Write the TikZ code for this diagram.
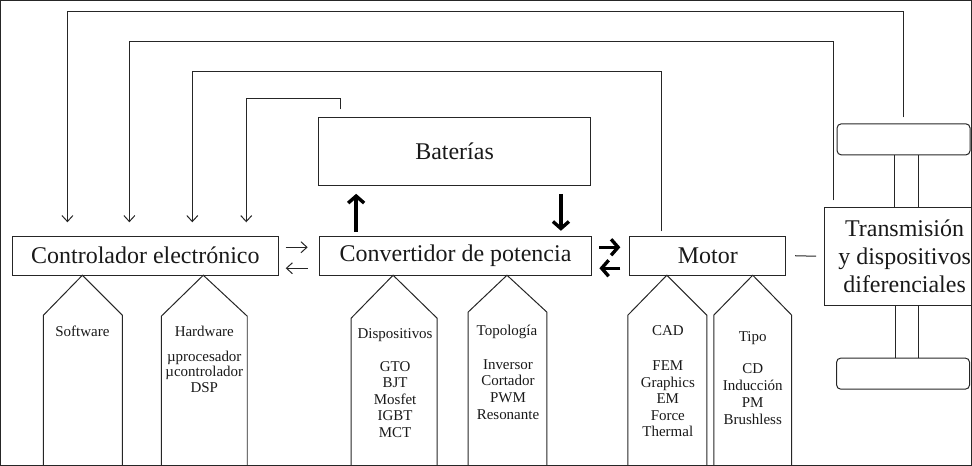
\documentclass[tikz,border=0pt]{standalone}
\usepackage{fontspec}
\setmainfont{Liberation Serif}
\usetikzlibrary{arrows.meta}
\begin{document}
\begin{tikzpicture}[x=1pt,y=-1pt, line width=1pt, every path/.style={draw=black!85},
  big/.style={font=\fontsize{24}{28}\selectfont, text=black!90},
  small/.style={font=\fontsize{15}{16.5}\selectfont, anchor=base, inner sep=0pt, text=black!90},
  box/.style={draw=black!85, inner sep=0pt, big},
  wheel/.style={draw=black!85, rounded corners=4pt, minimum width=133pt, minimum height=31pt, inner sep=0pt},
  thinarr/.style={-{Straight Barb[length=6pt,width=11pt]}},
  thickarr/.style={line width=3.4pt, draw=black, -{Straight Barb[length=7pt,width=16pt]}},
  pent/.style={draw=black!85, line width=1pt}
]
\useasboundingbox (0,0) rectangle (972,465);

% main boxes
\node[box, minimum width=266pt, minimum height=39pt] (ctrl) at (145,255.5) {Controlador electrónico};
\node[box, minimum width=273pt, minimum height=39pt] (conv) at (455.5,255.5) {Convertidor de potencia};
\node[box, minimum width=156pt, minimum height=39pt] (motor) at (708,255.5) {Motor};
\node[box, minimum width=273pt, minimum height=68pt] (bat) at (454.5,151) {Baterías};
\node[box, minimum width=160pt, minimum height=98pt, align=center] (trans) at (905,256)
  {Transmisión\\y dispositivos\\diferenciales};
\node[wheel] (w1) at (904,139) {};
\node[wheel] (w2) at (903.5,373.5) {};

% axles
\draw (w1.south -| 895,0) -- (trans.north -| 895,0);
\draw (w1.south -| 919,0) -- (trans.north -| 919,0);
\draw (trans.south -| 896,0) -- (w2.north -| 896,0);
\draw (trans.south -| 919,0) -- (w2.north -| 919,0);

% feedback lines
\coordinate (s1) at (904,117);
\coordinate (s2) at (834,200);
\coordinate (s3) at (662,231);
\coordinate (s4) at (340,109);
\coordinate (a1) at (67,222);
\coordinate (a2) at (129,222);
\coordinate (a3) at (192,222);
\coordinate (a4) at (246,222);
\draw[thinarr] (s1) |- (67,11) -- (a1);
\draw[thinarr] (s2) |- (129,41) -- (a2);
\draw[thinarr] (s3) |- (192,71) -- (a3);
\draw[thinarr] (s4) |- (246,98) -- (a4);

% controller <-> converter
\draw[thinarr] ([shift={(7,-8.5)}]ctrl.east) -- ([shift={(-11,-8.5)}]conv.west);
\draw[thinarr] ([shift={(-11,12.5)}]conv.west) -- ([shift={(7,12.5)}]ctrl.east);

% converter <-> batteries
\draw[thickarr] ([shift={(-99.5,-4)}]conv.north) -- ([shift={(-98.5,8)}]bat.south);
\draw[thickarr] ([shift={(106.5,8)}]bat.south) -- ([shift={(105.5,-5)}]conv.north);

% converter <-> motor
\draw[thickarr] ([shift={(7,-8.5)}]conv.east) -- ([shift={(-9,-8.5)}]motor.west);
\draw[thickarr] ([shift={(-9,12.5)}]motor.west) -- ([shift={(7,12.5)}]conv.east);

% motor - transmission
\draw ([xshift=9pt]motor.east) -- ([xshift=-8pt]trans.west);

% pentagons
\draw[pent] (43,467) -- (43,315) -- (82,275) -- (122,315) -- (122,467);
\draw[pent] (161,467) -- (161,316) -- (203,275) -- (247,316) -- (247,467);
\draw[pent] (351,467) -- (351,318) -- (393,275) -- (437,318) -- (437,467);
\draw[pent] (468,467) -- (468,312) -- (507,275) -- (547,312) -- (547,467);
\draw[pent] (628,467) -- (628,315) -- (667,275) -- (707,315) -- (707,467);
\draw[pent] (714,467) -- (714,315) -- (753,275) -- (792,315) -- (792,467);

% texts
\node[small] (tsw) at (82,336) {Software};
\node[small] (thw) at (204,336) {Hardware};
\foreach \t [count=\i] in {µprocesador,µcontrolador,DSP}
  \node[small] (hw\i) at (204,{361+15.5*(\i-1)}) {\t};
\node[small] (tdis) at (395,338) {Dispositivos};
\foreach \t [count=\i] in {GTO,BJT,Mosfet,IGBT,MCT}
  \node[small] (dis\i) at (395,{371+16.5*(\i-1)}) {\t};
\node[small] (ttop) at (507,335) {Topología};
\foreach \t [count=\i] in {Inversor,Cortador,PWM,Resonante}
  \node[small] (top\i) at (508,{369+16.7*(\i-1)}) {\t};
\node[small] (tcad) at (668,335.5) {CAD};
\foreach \t [count=\i] in {FEM,Graphics,EM,Force,Thermal}
  \node[small] (cad\i) at (668,{370.5+16.5*(\i-1)}) {\t};
\node[small] (ttipo) at (753,341) {Tipo};
\foreach \t [count=\i] in {CD,Inducción,PM,Brushless}
  \node[small] (tipo\i) at (753,{373+17*(\i-1)}) {\t};
\end{tikzpicture}
\end{document}
